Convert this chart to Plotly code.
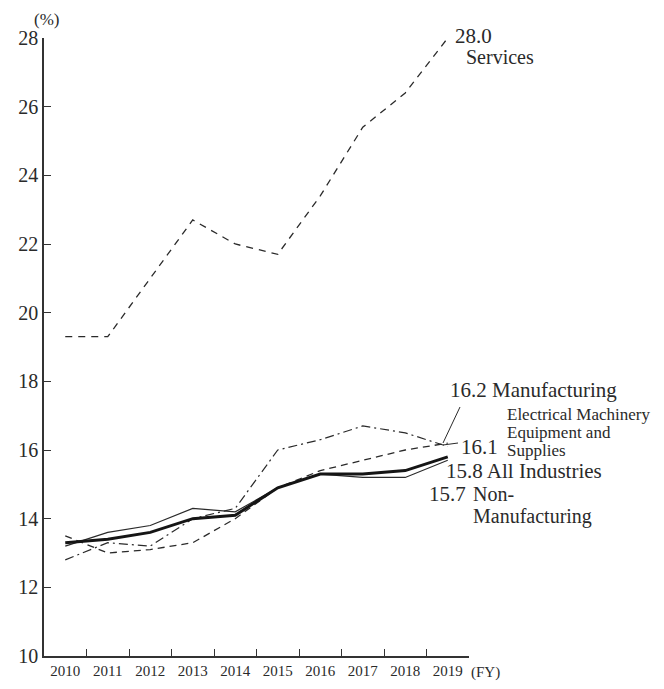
import plotly.graph_objects as go

years = ["2010", "2011", "2012", "2013", "2014", "2015", "2016", "2017", "2018", "2019"]

services = [19.3, 19.3, 21.0, 22.7, 22.0, 21.7, 23.4, 25.4, 26.4, 28.0]
manufacturing = [13.5, 13.0, 13.1, 13.3, 14.0, 14.9, 15.4, 15.7, 16.0, 16.2]
electrical = [12.8, 13.3, 13.2, 14.0, 14.3, 16.0, 16.3, 16.7, 16.5, 16.1]
all_industries = [13.3, 13.4, 13.6, 14.0, 14.1, 14.9, 15.3, 15.3, 15.4, 15.8]
non_manufacturing = [13.2, 13.6, 13.8, 14.3, 14.2, 14.9, 15.3, 15.2, 15.2, 15.7]

# --- Layout in pixels (page has an 8px body margin) ---
OFF = 8
W, H = 664 - OFF, 689 - OFF
L, T = 44 - OFF, 38 - OFF
R, B = W - (469 - OFF), H - (656 - OFF)
PW, PH = W - L - R, H - T - B
FONT = "Liberation Serif"
ink = "#2a2a2a"


def px(x, y):
    """window pixel position -> paper coordinates"""
    return (x - OFF - L) / PW, (H - B - (y - OFF)) / PH


fig = go.Figure()

series = [
    (services, dict(color=ink, width=1.3, dash="7px,6px")),
    (manufacturing, dict(color=ink, width=1.3, dash="7px,5px")),
    (electrical, dict(color=ink, width=1.2, dash="9px,4px,2px,4px")),
    (non_manufacturing, dict(color=ink, width=1.2)),
    (all_industries, dict(color="#151515", width=3)),
]
for vals, line in series:
    fig.add_trace(go.Scatter(x=years, y=vals, mode="lines", line=line,
                             showlegend=False, hoverinfo="skip"))


def label(x, y, text, size=21):
    xp, yp = px(x, y)
    fig.add_annotation(x=xp, y=yp, xref="paper", yref="paper",
                       text=text, showarrow=False, xanchor="left", yanchor="middle",
                       align="left", font=dict(family=FONT, size=size, color=ink))


label(453, 36, "28.0")
label(464, 57, "Services", size=20)
label(448, 390, "16.2 Manufacturing")
label(505, 414, "Electrical Machinery", size=17)
label(505, 432, "Equipment and", size=17)
label(505, 450, "Supplies", size=17)
label(459, 447, "16.1")
label(444, 471, "15.8 All Industries")
label(427, 494, "15.7")
label(471, 494, "Non-", size=20)
label(471, 517, "Manufacturing", size=20)

# leader lines
for (xa, ya), (xb, yb) in [((460, 407), (443, 443)), ((443, 445), (458, 443))]:
    x0, y0 = px(xa, ya)
    x1, y1 = px(xb, yb)
    fig.add_shape(type="line", xref="paper", yref="paper",
                  x0=x0, y0=y0, x1=x1, y1=y1, line=dict(color=ink, width=1))

xp, yp = px(32, 19)
fig.add_annotation(x=xp, y=yp, xref="paper", yref="paper", text="(%)",
                   showarrow=False, xanchor="left", yanchor="middle",
                   font=dict(family=FONT, size=17, color=ink))
xp, yp = px(469, 672)
fig.add_annotation(x=xp, y=yp, xref="paper", yref="paper", text="(FY)",
                   showarrow=False, xanchor="left", yanchor="middle",
                   font=dict(family=FONT, size=15, color=ink))

fig.update_layout(
    width=W, height=H,
    margin=dict(l=L, r=R, t=T, b=B),
    plot_bgcolor="white", paper_bgcolor="white",
    xaxis=dict(
        type="category", range=[-0.5, 9.5], tickson="boundaries",
        ticks="inside", ticklen=7, tickwidth=1.3, tickcolor="#333",
        showline=True, linecolor="#333", linewidth=1.5,
        showgrid=False, zeroline=False, automargin=False,
        tickfont=dict(family=FONT, size=15, color=ink),
    ),
    yaxis=dict(
        range=[10, 28], dtick=2, ticks="inside", ticklen=7, tickwidth=1.3,
        tickcolor="#333", showline=True, linecolor="#333", linewidth=1.5,
        showgrid=False, zeroline=False, automargin=False,
        tickfont=dict(family=FONT, size=20, color=ink),
    ),
)

fig.write_html("out.html")
